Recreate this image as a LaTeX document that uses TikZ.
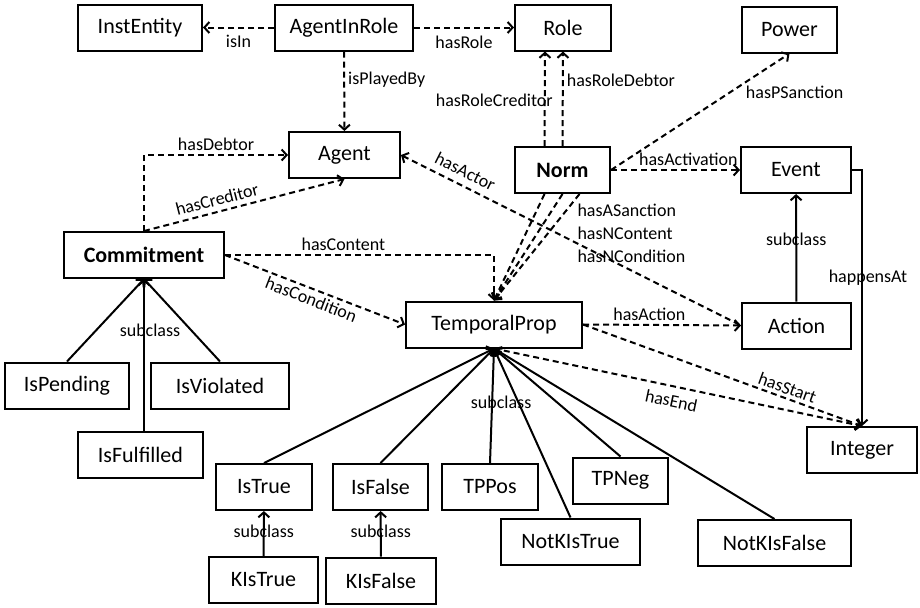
\documentclass[tikz,border=0pt]{standalone}
\usepackage{fontspec}
\setmainfont{Carlito}
\usetikzlibrary{arrows.meta}

\begin{document}
\begin{tikzpicture}[x=0.5pt,y=-0.5pt,
  barb/.tip={Straight Barb[length=2.5pt,width=5.5pt]},
  cls/.style={draw,line width=1pt,inner sep=0pt,minimum height=23pt,font=\fontsize{11}{13}\selectfont},
  main/.style={cls,font=\fontsize{11}{13}\selectfont\bfseries},
  rel/.style={-barb,dash pattern=on 3pt off 2pt,line width=1pt},
  sub/.style={-barb,line width=1pt},
  lbl/.style={font=\fontsize{9}{11.5}\selectfont,inner sep=1.5pt}]
\useasboundingbox (0,0) rectangle (920,607);
% Classes
\node[cls,minimum width=62pt] (instentity) at (140,27.5) {InstEntity};
\node[cls,minimum width=69pt] (agentinrole) at (344,27.5) {AgentInRole};
\node[cls,minimum width=48pt] (role) at (563,27.5) {Role};
\node[cls,minimum width=47.5pt] (power) at (789.5,29.5) {Power};
\node[cls,minimum width=55.5pt] (agent) at (344.5,155) {Agent};
\node[main,minimum width=47.5pt] (norm) at (562.5,170) {Norm};
\node[cls,minimum width=55pt] (event) at (796,170) {Event};
\node[main,minimum width=80pt] (commitment) at (144,255) {Commitment};
\node[cls,minimum width=88pt] (tprop) at (494,324.5) {TemporalProp};
\node[cls,minimum width=54.5pt] (action) at (796.5,325.5) {Action};
\node[cls,minimum width=62pt] (ispending) at (67,385.5) {IsPending};
\node[cls,minimum width=69pt] (isviolated) at (220,385.5) {IsViolated};
\node[cls,minimum width=62.5pt] (isfulfilled) at (140.5,454.5) {IsFulfilled};
\node[cls,minimum width=55pt] (integer) at (862,450) {Integer};
\node[cls,minimum width=48pt] (istrue) at (264,487) {IsTrue};
\node[cls,minimum width=47.5pt] (isfalse) at (380.5,487) {IsFalse};
\node[cls,minimum width=48pt] (tppos) at (490,487) {TPPos};
\node[cls,minimum width=47.5pt] (tpneg) at (620.5,480.5) {TPNeg};
\node[cls,minimum width=69.5pt] (notkistrue) at (570.5,541.5) {NotKIsTrue};
\node[cls,minimum width=76.5pt] (notkisfalse) at (774.5,543) {NotKIsFalse};
\node[cls,minimum width=54.5pt] (kistrue) at (263.5,580) {KIsTrue};
\node[cls,minimum width=55pt] (kisfalse) at (381,580.5) {KIsFalse};
% Properties
\draw[rel] (agentinrole) -- (instentity) node[lbl,midway,below=2pt]{isIn};
\draw[rel] (agentinrole) -- (role) node[lbl,midway,below=2pt]{hasRole};
\draw[rel] (agentinrole) -- (agent) node[lbl,pos=0.35,right]{isPlayedBy};
\draw[rel] ([xshift=-9pt]norm.north) -- ([xshift=-9pt]role.south) node[lbl,pos=0.48,anchor=east,xshift=6pt]{hasRoleCreditor};
\draw[rel] (norm.north) -- (role.south) node[lbl,pos=0.7,right]{hasRoleDebtor};
\draw[rel] (norm.east) -- (power.south) node[lbl,pos=0.7,anchor=north west,xshift=3pt,yshift=3pt]{hasPSanction};
\draw[rel] (norm) -- (event) node[lbl,pos=0.6,above]{hasActivation};
\draw[rel] ([xshift=-9pt]norm.south) -- (tprop.north);
\draw[rel] (norm.south) -- (tprop.north);
\draw[rel] ([xshift=8.5pt]norm.south) -- (tprop.north) node[lbl,pos=0,anchor=north west,align=left,xshift=-3pt,yshift=-3pt]{hasASanction\\hasNContent\\hasNCondition};
\draw[rel] (commitment.north) |- (agent.west) node[lbl,pos=0.75,above]{hasDebtor};
\draw[rel] (commitment.north) -- (agent.south) node[lbl,pos=0.38,above=1pt,sloped]{hasCreditor};
\draw[rel,barb-] (agent.east) -- (action.west) node[lbl,pos=0.17,above=2pt,sloped]{hasActor};
\draw[rel] (commitment.east) -| (tprop.north) node[lbl,pos=0.22,above]{hasContent};
\draw[rel] (commitment.east) -- (tprop.west) node[lbl,midway,below,sloped]{hasCondition};
\draw[rel] (tprop.east) -- (action.west) node[lbl,pos=0.42,above]{hasAction};
\draw[rel] (tprop.east) -- (integer.north) node[lbl,pos=0.72,above,sloped]{hasStart};
\draw[rel] (tprop.south) -- (integer.north) node[lbl,pos=0.49,below=2pt,sloped]{hasEnd};
\draw[sub] (event.east) -| (integer.north) node[lbl,pos=0.71,xshift=3pt]{happensAt};
% Subclasses
\draw[sub] (action) -- (event) node[lbl,pos=0.58]{subclass};
\foreach \c in {ispending,isviolated}
  \draw[sub] (\c.north) -- (commitment.south);
\draw[sub] ([xshift=1.75pt]isfulfilled.north) -- (commitment.south) node[lbl,pos=0.66,xshift=3pt]{subclass};
\foreach \c in {istrue,isfalse,tpneg,notkistrue,notkisfalse}
  \draw[sub] (\c.north) -- (tprop.south);
\draw[sub] (tppos.north) -- (tprop.south) node[lbl,pos=0.53,xshift=4.5pt]{subclass};
\draw[sub] (kistrue) -- (istrue) node[lbl,pos=0.55]{subclass};
\draw[sub] (kisfalse) -- (isfalse) node[lbl,pos=0.55]{subclass};
\end{tikzpicture}
\end{document}
